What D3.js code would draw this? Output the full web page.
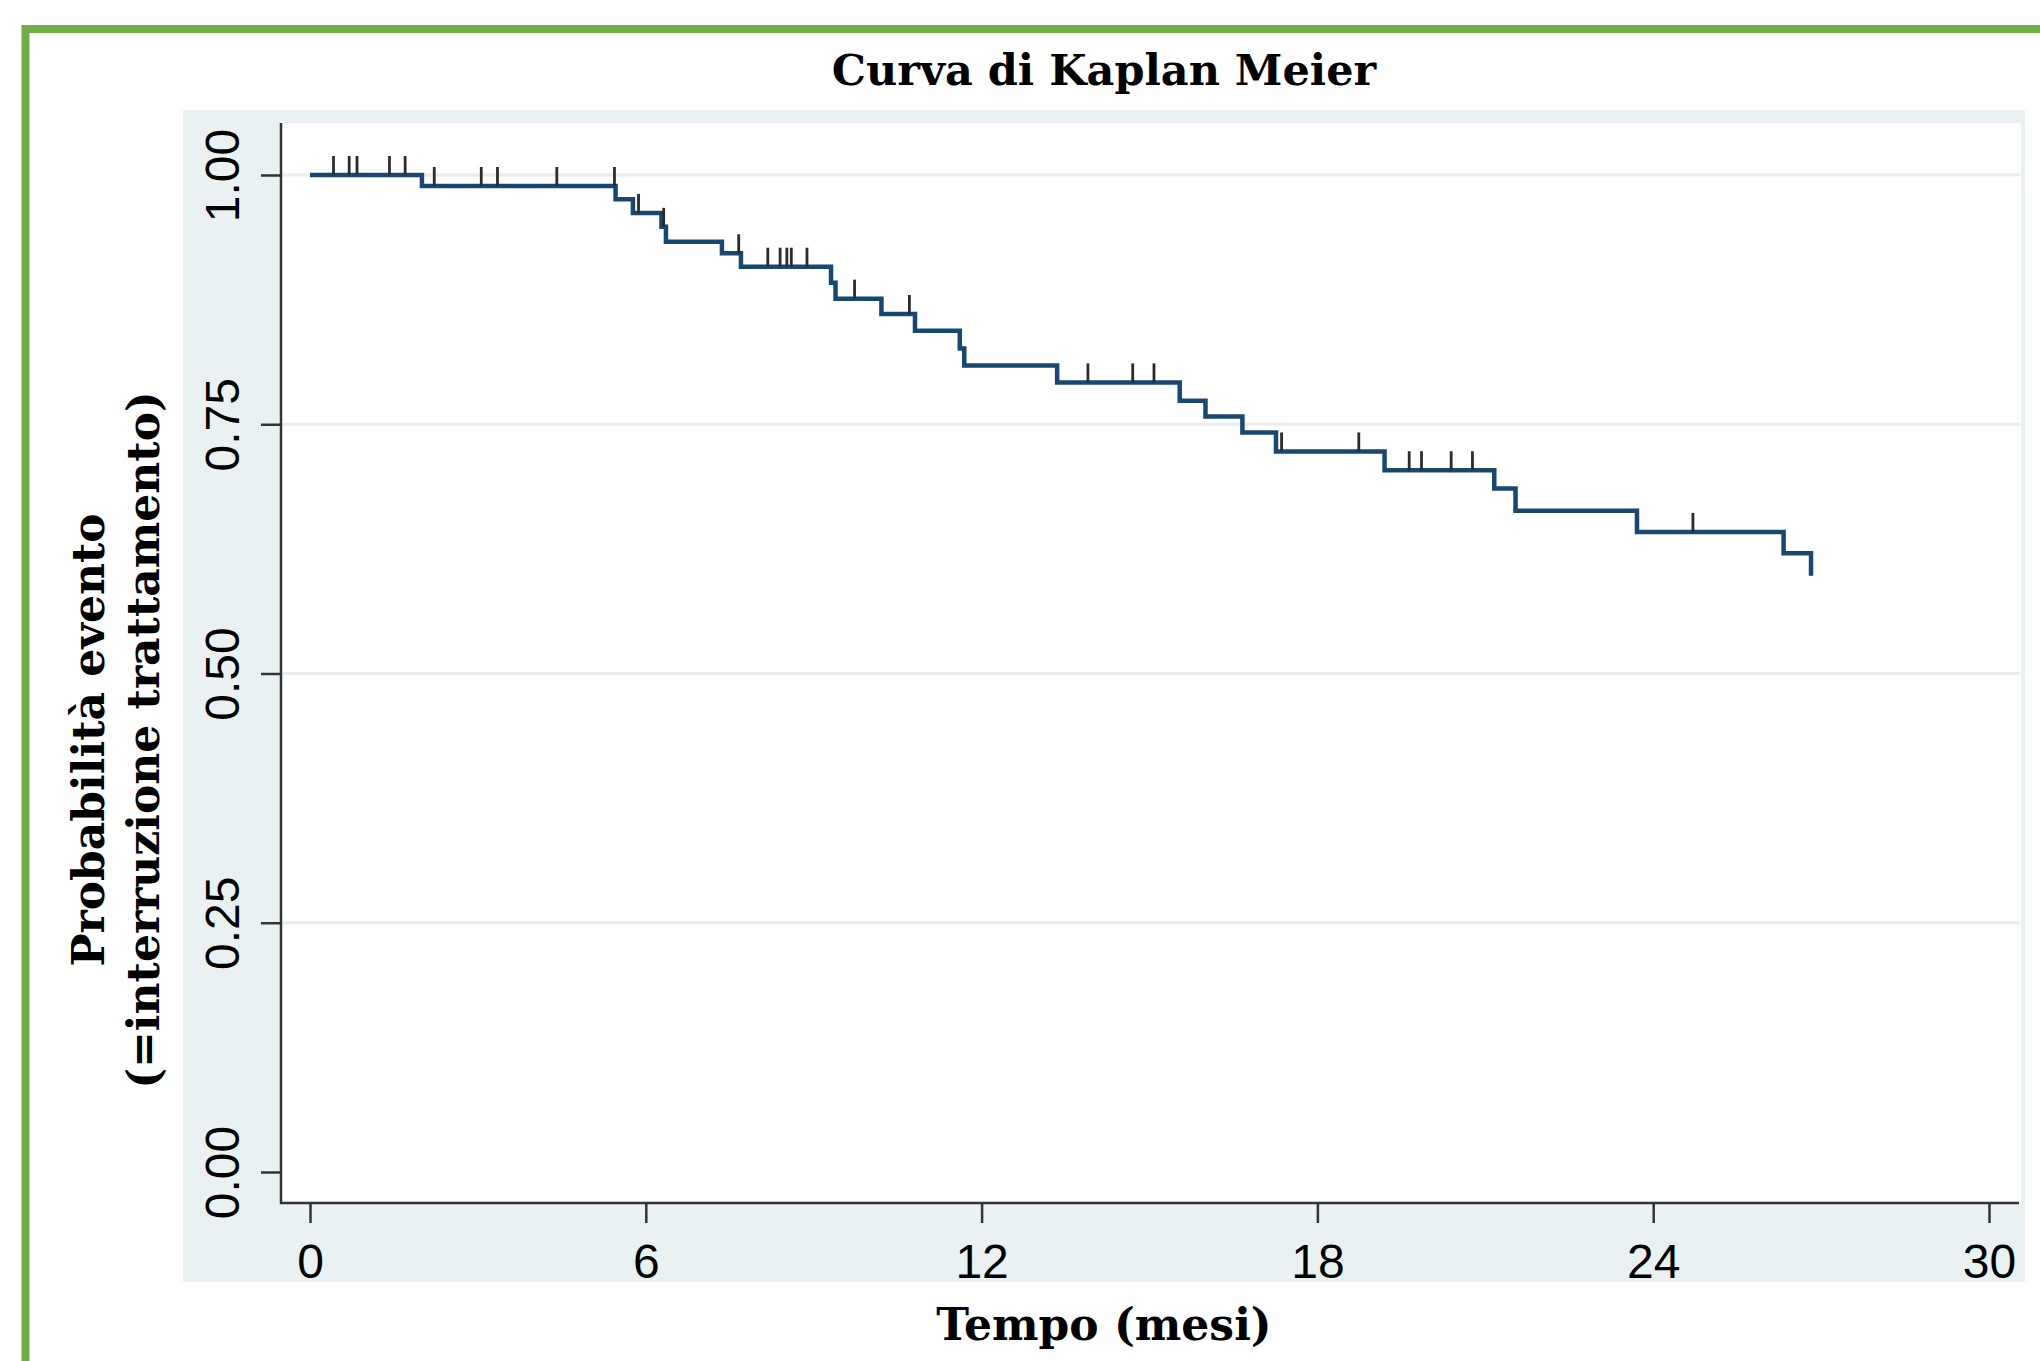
<!DOCTYPE html>
<html>
<head>
<meta charset="utf-8">
<script src="https://cdn.jsdelivr.net/npm/d3@7"></script>
<style>
  body { margin: 0; background: #fff; }
  svg { display: block; }
</style>
</head>
<body>
<div class="KMPlot"></div>
<script>
// Kaplan-Meier estimate: event times (months) and survival after each step
const eventTimes = [0, 2.00, 5.46, 5.77, 6.28, 6.36, 7.36, 7.70, 9.31, 9.39, 10.21, 10.81,
  11.61, 11.69, 13.35, 15.54, 16.00, 16.66, 17.26, 19.20, 21.16, 21.54, 23.71, 26.33, 26.82];
const survival = [1.000, 0.989, 0.9756, 0.962, 0.948, 0.933, 0.9215, 0.908, 0.892, 0.876, 0.8606, 0.8438,
  0.826, 0.809, 0.792, 0.7736, 0.7577, 0.7417, 0.7227, 0.7039, 0.6855, 0.6632, 0.642, 0.6206, 0.598];
// censored observations (months)
const censorTimes = [0.42, 0.70, 0.84, 1.42, 1.70, 2.22, 3.06, 3.35, 4.41, 5.44, 5.87, 6.32, 7.66,
  8.18, 8.40, 8.52, 8.60, 8.88, 9.73, 10.71, 13.90, 14.70, 15.08, 17.36, 18.74, 19.64, 19.86,
  20.39, 20.77, 24.71];
const xTicks = [0, 6, 12, 18, 24, 30];
const yTicks = [0, 0.25, 0.5, 0.75, 1];
const gridValues = [0.25, 0.5, 0.75, 1];

const chartTitle = "Curva di Kaplan Meier";
const xTitle = "Tempo (mesi)";
const yTitle = ["Probabilità evento", "(=interruzione trattamento)"];

const width = 2040, height = 1361;
const serif = "'DejaVu Serif', serif";
const sans = "'Liberation Sans', Arial, sans-serif";

// regions
const outer = { left: 183, top: 110, right: 2025, bottom: 1282 };   // shaded graph region
const plot = { left: 281, top: 123, right: 2021, bottom: 1203 };    // white plot region

const x = d3.scaleLinear().domain([0, 30]).range([310, 1989]);
const y = d3.scaleLinear().domain([0, 1]).range([1172, 175]);

const svg = d3.select(".KMPlot")
  .append("svg")
  .attr("width", width)
  .attr("height", height);

// green frame
svg.append("rect")
  .attr("x", 25.5).attr("y", 29)
  .attr("width", width + 20).attr("height", height + 20)
  .attr("fill", "#fff")
  .attr("stroke", "#70ad47")
  .attr("stroke-width", 8);

svg.append("rect")
  .attr("x", outer.left).attr("y", outer.top)
  .attr("width", outer.right - outer.left).attr("height", outer.bottom - outer.top)
  .attr("fill", "#eaf1f3");

svg.append("rect")
  .attr("x", plot.left).attr("y", plot.top)
  .attr("width", plot.right - plot.left).attr("height", plot.bottom - plot.top)
  .attr("fill", "#fff");

// gridlines
svg.append("g")
  .selectAll("line")
  .data(gridValues)
  .enter()
  .append("line")
  .attr("x1", plot.left).attr("x2", plot.right - 1)
  .attr("y1", d => y(d)).attr("y2", d => y(d))
  .attr("stroke", "#e6eef1")
  .attr("stroke-width", 3);

// X axis
const xAxis = svg.append("g")
  .attr("transform", `translate(0,${plot.bottom})`)
  .call(d3.axisBottom(x).tickValues(xTicks).tickSize(20).tickPadding(21));
xAxis.select(".domain").remove();
xAxis.selectAll(".tick line").attr("stroke", "#333").attr("stroke-width", 2.5);
xAxis.selectAll("text")
  .attr("font-family", sans).attr("font-size", 48).attr("fill", "#000");

// Y axis, labels rotated
const yAxis = svg.append("g")
  .attr("transform", `translate(${plot.left},0)`)
  .call(d3.axisLeft(y).tickValues(yTicks).tickFormat(d3.format(".2f")).tickSize(20));
yAxis.select(".domain").remove();
yAxis.selectAll(".tick line").attr("stroke", "#333").attr("stroke-width", 2.5);
yAxis.selectAll("text")
  .attr("x", null).attr("dy", null)
  .attr("transform", "translate(-42,0) rotate(-90)")
  .attr("text-anchor", "middle")
  .attr("font-family", sans).attr("font-size", 48).attr("fill", "#000");

// axis lines
svg.append("path")
  .attr("d", `M${plot.left},${plot.top}V${plot.bottom}H${plot.right - 2}`)
  .attr("fill", "none")
  .attr("stroke", "#333")
  .attr("stroke-width", 2.5);

// step curve
const steps = eventTimes.map((t, i) => [t, survival[i]]);
const line = d3.line()
  .x(d => x(d[0]))
  .y(d => y(d[1]))
  .curve(d3.curveStepAfter);

svg.append("path")
  .datum(steps)
  .attr("d", line)
  .attr("fill", "none")
  .attr("stroke", "#1a476f")
  .attr("stroke-width", 4.5);

// survival at a censor time = last step at or before it
function survivalAt(t) {
  let s = survival[0];
  eventTimes.forEach((e, i) => { if (e <= t) s = survival[i]; });
  return s;
}

svg.append("g")
  .selectAll("line")
  .data(censorTimes)
  .enter()
  .append("line")
  .attr("x1", d => x(d)).attr("x2", d => x(d))
  .attr("y1", d => y(survivalAt(d)))
  .attr("y2", d => y(survivalAt(d)) - 19)
  .attr("stroke", "#2b2b2b")
  .attr("stroke-width", 2.8);

// titles
const midX = (outer.left + outer.right) / 2;
svg.append("text")
  .attr("x", midX).attr("y", 85)
  .attr("text-anchor", "middle")
  .attr("font-family", serif).attr("font-weight", "bold").attr("font-size", 43)
  .text(chartTitle);

svg.append("text")
  .attr("x", midX).attr("y", 1340)
  .attr("text-anchor", "middle")
  .attr("font-family", serif).attr("font-weight", "bold").attr("font-size", 44)
  .text(xTitle);

svg.append("g")
  .selectAll("text")
  .data(yTitle)
  .enter()
  .append("text")
  .attr("transform", (d, i) => `translate(${104 + i * 55},740) rotate(-90)`)
  .attr("text-anchor", "middle")
  .attr("font-family", serif).attr("font-weight", "bold").attr("font-size", 44)
  .text(d => d);
</script>
</body>
</html>
